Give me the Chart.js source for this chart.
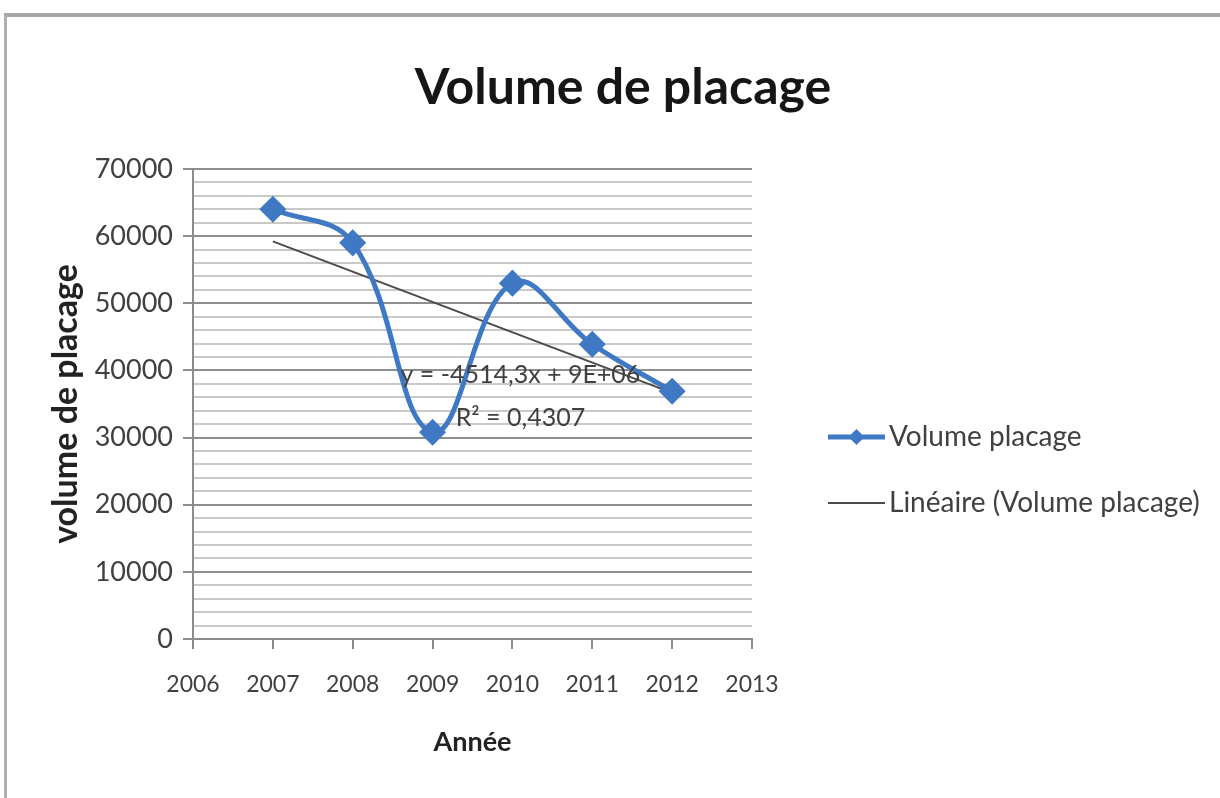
<!DOCTYPE html>
<html>
<head>
<meta charset="utf-8">
<script src="https://cdn.jsdelivr.net/npm/chart.js@4.4.1/dist/chart.umd.min.js"></script>
<style>
  html, body { margin: 0; padding: 0; background: #ffffff; }
  #wrap { position: relative; width: 1220px; height: 798px; overflow: hidden; }
  #frame { position: absolute; left: 4px; top: 13px; width: 1300px; height: 900px;
           border-top: 4px solid #a6a6a6; border-left: 3px solid #b0b0b0; pointer-events: none; }
  canvas { position: absolute; left: 0; top: 0; }
</style>
</head>
<body>
<div id="wrap">
  <canvas id="chart" width="1220" height="798"></canvas>
  <div id="frame"></div>
</div>
<script>
// Annual plating volume
const years = [2007, 2008, 2009, 2010, 2011, 2012];
const volumes = [64000, 59000, 30800, 53000, 43900, 36900];

// Axis ranges and tick steps
const xRange = [2006, 2013];
const yRange = [0, 70000];
const yMajorStep = 10000;
const yMinorStep = 2000;

// Linear trend as reported by the regression label
const trendSlope = -4514.3;
const trendLabel = 'y = -4514,3x + 9E+06';
const r2Label = 'R² = 0,4307';
const chartTitle = 'Volume de placage';

// Intercept of the trend through the mean point of the series
const meanX = years.reduce((a, b) => a + b, 0) / years.length;
const meanY = volumes.reduce((a, b) => a + b, 0) / volumes.length;
const trendIntercept = meanY - trendSlope * meanX;
const trendYears = [years[0], years[years.length - 1]];
const trendValues = trendYears.map(x => trendSlope * x + trendIntercept);

const FONT = 'Lato, "Open Sans", sans-serif';
const BLUE = '#3f79c3';
const TREND = '#4a4a4a';
const TEXT = '#404040';

// Title centred over the whole figure (plot + legend)
const pageTitle = {
  id: 'pageTitle',
  afterDraw(chart) {
    const ctx = chart.ctx;
    ctx.save();
    ctx.fillStyle = '#161616';
    ctx.font = 'bold 50px ' + FONT;
    ctx.textAlign = 'center';
    ctx.textBaseline = 'alphabetic';
    ctx.fillText(chartTitle, 623, 104);
    ctx.restore();
  }
};

// Legend on the right, drawn as sample line + marker + label
const sideLegend = {
  id: 'sideLegend',
  afterDraw(chart) {
    const ctx = chart.ctx;
    const rows = [
      { ds: chart.data.datasets[0], y: 437 },
      { ds: chart.data.datasets[1], y: 503 }
    ];
    const x0 = 828, x1 = 885;
    ctx.save();
    rows.forEach(r => {
      ctx.strokeStyle = r.ds.borderColor;
      ctx.lineWidth = r.ds.borderWidth;
      ctx.beginPath();
      ctx.moveTo(x0, r.y);
      ctx.lineTo(x1, r.y);
      ctx.stroke();
      if (r.ds.pointRadius > 0) {
        ctx.fillStyle = r.ds.pointBackgroundColor;
        const s = 8;
        const cx = (x0 + x1) / 2;
        ctx.beginPath();
        ctx.moveTo(cx, r.y - s);
        ctx.lineTo(cx + s, r.y);
        ctx.lineTo(cx, r.y + s);
        ctx.lineTo(cx - s, r.y);
        ctx.closePath();
        ctx.fill();
      }
      ctx.fillStyle = TEXT;
      ctx.font = '28px ' + FONT;
      ctx.textAlign = 'left';
      ctx.textBaseline = 'middle';
      ctx.fillText(r.ds.label, x1 + 4, r.y);
    });
    ctx.restore();
  }
};

// Regression equation and R² placed near the trend line
const trendText = {
  id: 'trendText',
  afterDatasetsDraw(chart) {
    const ctx = chart.ctx;
    const xs = chart.scales.x, ys = chart.scales.y;
    const cx = xs.getPixelForValue(2010.1);
    ctx.save();
    ctx.fillStyle = TEXT;
    ctx.font = '25px ' + FONT;
    ctx.textAlign = 'center';
    ctx.textBaseline = 'middle';
    ctx.fillText(trendLabel, cx, ys.getPixelForValue(39300));
    ctx.fillText(r2Label, cx, ys.getPixelForValue(32900));
    ctx.restore();
  }
};

new Chart(document.getElementById('chart'), {
  type: 'line',
  data: {
    datasets: [
      {
        label: 'Volume placage',
        data: years.map((x, i) => ({ x, y: volumes[i] })),
        borderColor: BLUE,
        backgroundColor: BLUE,
        pointBackgroundColor: BLUE,
        pointBorderColor: BLUE,
        borderWidth: 5,
        pointStyle: 'rectRot',
        pointRadius: 10,
        tension: 0.4,
        fill: false
      },
      {
        label: 'Linéaire (Volume placage)',
        data: trendYears.map((x, i) => ({ x, y: trendValues[i] })),
        borderColor: TREND,
        backgroundColor: TREND,
        borderWidth: 2,
        pointRadius: 0,
        tension: 0,
        fill: false
      }
    ]
  },
  options: {
    responsive: false,
    animation: false,
    events: [],
    layout: { padding: { left: 46, right: 468, top: 169, bottom: 40 } },
    plugins: {
      legend: { display: false },
      tooltip: { enabled: false },
      title: { display: false }
    },
    scales: {
      x: {
        type: 'linear',
        min: xRange[0],
        max: xRange[1],
        afterFit(s) { s.height = 119; },
        ticks: {
          stepSize: 1,
          color: TEXT,
          font: { family: FONT, size: 23 },
          padding: 22,
          callback: v => String(v)
        },
        grid: { drawOnChartArea: false, drawTicks: true, tickLength: 10, tickColor: '#8c8c8c', lineWidth: 2 },
        border: { display: true, color: '#8c8c8c', width: 2 },
        title: {
          display: true,
          text: 'Année',
          color: '#222222',
          font: { family: FONT, size: 27, weight: 'bold' },
          padding: { top: 10, bottom: 0 }
        }
      },
      y: {
        min: yRange[0],
        max: yRange[1],
        afterFit(s) { s.width = 147; },
        ticks: {
          stepSize: yMinorStep,
          autoSkip: false,
          color: TEXT,
          font: { family: FONT, size: 27 },
          padding: 10,
          callback: v => (v % yMajorStep === 0 ? String(v) : '')
        },
        grid: {
          color: c => (c.tick && c.tick.value % yMajorStep === 0 ? '#8e8e8e' : '#c9c9c9'),
          tickColor: c => (c.tick && c.tick.value % yMajorStep === 0 ? '#8e8e8e' : 'rgba(0,0,0,0)'),
          lineWidth: 2,
          tickLength: 10
        },
        border: { display: true, color: '#8c8c8c', width: 2 },
        title: {
          display: true,
          text: 'volume de placage',
          color: '#222222',
          font: { family: FONT, size: 34, weight: 'bold' },
          padding: { top: 0, bottom: 6 }
        }
      }
    }
  },
  plugins: [pageTitle, sideLegend, trendText]
});
</script>
</body>
</html>
